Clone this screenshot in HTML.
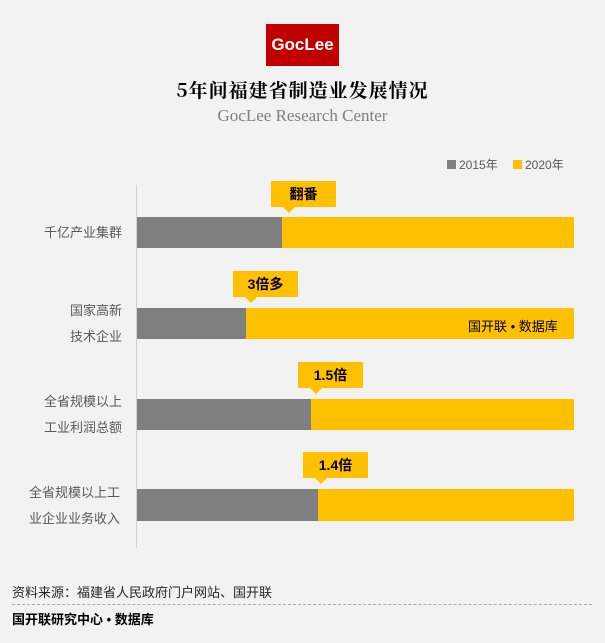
<!DOCTYPE html><html><head><meta charset="utf-8"><style>
body{margin:0;width:605px;height:643px;background:#f2f2f2;position:relative;overflow:hidden;font-family:"Liberation Sans","Noto Sans CJK SC",sans-serif}
div{position:absolute}
.g{background:#7f7f7f}.y{background:#ffc000}
.lab{color:#595959;font-size:13px;text-align:right;width:110px;left:12px;line-height:26px}
.c{background:#ffc000;height:26px;width:65px;text-align:center;font-weight:bold;font-size:14px;line-height:26px;color:#000}
.c:after{content:"";position:absolute;left:12px;bottom:-6px;border-left:6px solid transparent;border-right:6px solid transparent;border-top:6px solid #ffc000}
</style></head><body>
<div style="left:266px;top:24px;width:73px;height:42px;background:#c00000;color:#fff;font-weight:bold;font-size:17px;line-height:42px;text-align:center">GocLee</div>
<div style="left:0;width:605px;top:76px;text-align:center;font-family:'Noto Serif CJK SC',serif;font-weight:bold;font-size:19px;letter-spacing:1px">5年间福建省制造业发展情况</div>
<div style="left:0;width:605px;top:106px;text-align:center;font-family:'Liberation Serif',serif;font-size:17px;color:#7f7f7f">GocLee Research Center</div>
<div class="g" style="left:447px;top:160px;width:9px;height:9px"></div><div style="left:459px;top:156px;font-size:12px;color:#595959">2015年</div>
<div class="y" style="left:513px;top:160px;width:9px;height:9px"></div><div style="left:525px;top:156px;font-size:12px;color:#595959">2020年</div>
<div style="left:136px;top:185px;width:1px;height:363px;background:#d0d0d0"></div>
<div class="y" style="left:137px;top:217px;width:437px;height:31px"></div><div class="g" style="left:137px;top:217px;width:145px;height:31px"></div>
<div class="y" style="left:137px;top:308px;width:437px;height:31px"></div><div class="g" style="left:137px;top:308px;width:109px;height:31px"></div>
<div class="y" style="left:137px;top:399px;width:437px;height:31px"></div><div class="g" style="left:137px;top:399px;width:174px;height:31px"></div>
<div class="y" style="left:137px;top:489px;width:437px;height:32px"></div><div class="g" style="left:137px;top:489px;width:181px;height:32px"></div>
<div style="left:468px;top:316px;font-size:13px">国开联 • 数据库</div>
<div class="lab" style="top:220px">千亿产业集群</div>
<div class="lab" style="top:298px">国家高新<br>技术企业</div>
<div class="lab" style="top:389px">全省规模以上<br>工业利润总额</div>
<div class="lab" style="top:480px;width:120px;left:0">全省规模以上工<br>业企业业务收入</div>
<div class="c" style="left:271px;top:181px">翻番</div>
<div class="c" style="left:233px;top:271px">3倍多</div>
<div class="c" style="left:298px;top:362px">1.5倍</div>
<div class="c" style="left:303px;top:452px">1.4倍</div>
<div style="left:12px;top:582px;font-size:13px;color:#262626">资料来源：福建省人民政府门户网站、国开联</div>
<div style="left:12px;top:604px;width:580px;border-top:1px dashed #aaa"></div>
<div style="left:12px;top:609px;font-size:13px;font-weight:bold;color:#000">国开联研究中心 • 数据库</div>
</body></html>
